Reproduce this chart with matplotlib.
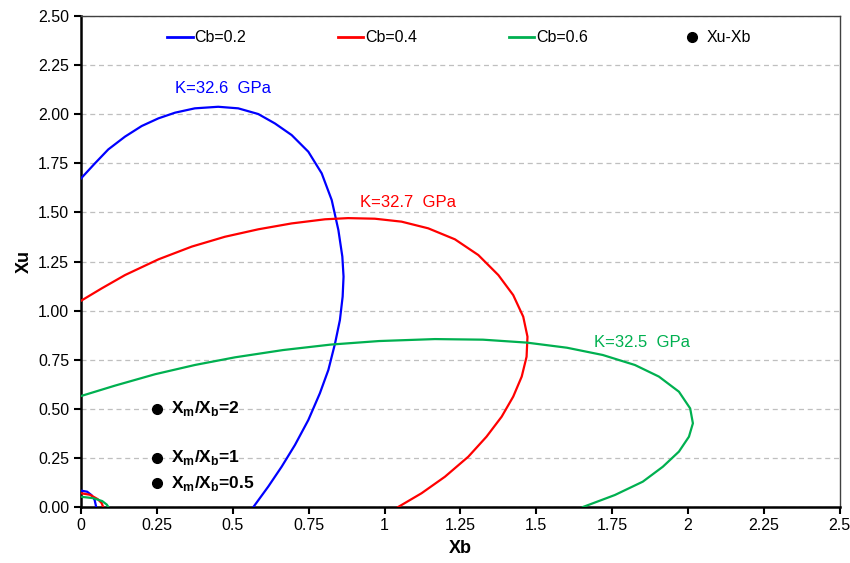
import numpy as np
import matplotlib.pyplot as plt
from matplotlib.lines import Line2D

plt.rcParams['font.family'] = ['Liberation Sans', 'DejaVu Sans']
plt.rcParams['mathtext.fontset'] = 'custom'
plt.rcParams['mathtext.rm'] = 'Liberation Sans'
plt.rcParams['mathtext.bf'] = 'Liberation Sans:bold'

# --- data (Xb, Xu) ---
blue_xb = [0.0, 0.046, 0.090, 0.145, 0.200, 0.255, 0.310, 0.375, 0.452, 0.518, 0.584,
           0.639, 0.694, 0.749, 0.793, 0.826, 0.848, 0.861, 0.865, 0.862, 0.853, 0.837,
           0.815, 0.787, 0.749, 0.705, 0.661, 0.617, 0.568]
blue_xu = [1.673, 1.750, 1.821, 1.886, 1.940, 1.979, 2.008, 2.030, 2.038, 2.030, 2.001,
           1.953, 1.894, 1.809, 1.699, 1.563, 1.410, 1.275, 1.173, 1.071, 0.952, 0.833,
           0.698, 0.579, 0.443, 0.316, 0.205, 0.104, 0.0]

red_xb = [0.0, 0.068, 0.145, 0.255, 0.365, 0.474, 0.584, 0.694, 0.804, 0.880, 0.968,
          1.056, 1.144, 1.232, 1.309, 1.375, 1.424, 1.457, 1.471, 1.468, 1.452, 1.424,
          1.386, 1.336, 1.276, 1.199, 1.122, 1.045]
red_xu = [1.050, 1.113, 1.181, 1.261, 1.326, 1.376, 1.414, 1.444, 1.465, 1.471, 1.468,
          1.453, 1.419, 1.363, 1.283, 1.181, 1.079, 0.969, 0.867, 0.765, 0.664, 0.562,
          0.460, 0.358, 0.256, 0.154, 0.070, 0.0]

green_xb = [0.0, 0.112, 0.244, 0.375, 0.507, 0.665, 0.823, 0.982, 1.166, 1.324, 1.469,
            1.601, 1.719, 1.825, 1.904, 1.970, 2.007, 2.016, 2.003, 1.970, 1.917, 1.851,
            1.759, 1.654]
green_xu = [0.565, 0.618, 0.676, 0.723, 0.762, 0.799, 0.827, 0.845, 0.855, 0.852, 0.837,
            0.811, 0.774, 0.723, 0.664, 0.587, 0.502, 0.426, 0.358, 0.282, 0.205, 0.129,
            0.061, 0.0]

# small loops near the origin
blue_s_xb = [0.0, 0.02, 0.035, 0.045, 0.05]
blue_s_xu = [0.083, 0.078, 0.06, 0.035, 0.0]
red_s_xb = [0.0, 0.03, 0.055, 0.068, 0.073]
red_s_xu = [0.07, 0.062, 0.04, 0.02, 0.0]
green_s_xb = [0.0, 0.04, 0.07, 0.085, 0.09]
green_s_xu = [0.052, 0.045, 0.03, 0.012, 0.0]

# Xu-Xb points
pt_xb = [0.25, 0.25, 0.25]
pt_xu = [0.5, 0.25, 0.12]
pt_labels = ['2', '1', '0.5']

blue, red, green = '#0000FF', '#FF0000', '#00B050'

fig = plt.figure(figsize=(8.5, 5.63), dpi=100)
ax = fig.add_axes([0.0953, 0.0995, 0.8927, 0.872])

lw = 1.6
for xs, ys, c in [(blue_xb, blue_xu, blue), (red_xb, red_xu, red), (green_xb, green_xu, green),
                  (blue_s_xb, blue_s_xu, blue), (red_s_xb, red_s_xu, red),
                  (green_s_xb, green_s_xu, green)]:
    ax.plot(xs, ys, color=c, lw=lw, zorder=3, solid_joinstyle='round')

ax.plot(pt_xb, pt_xu, 'o', color='black', ms=7, zorder=4)
for x, y, lab in zip(pt_xb, pt_xu, pt_labels):
    ax.text(x + 0.045, y, r'X$_{\mathbf{m}}$/X$_{\mathbf{b}}$=' + lab,
            fontsize=12.5, fontweight='bold', va='center', ha='left', zorder=5)

ax.text(0.31, 2.13, 'K=32.6  GPa', color=blue, fontsize=12, va='center')
ax.text(0.92, 1.55, 'K=32.7  GPa', color=red, fontsize=12, va='center')
ax.text(1.69, 0.84, 'K=32.5  GPa', color=green, fontsize=12, va='center')

ax.set_xlim(0, 2.5)
ax.set_ylim(0, 2.5)
ax.set_xticks(np.arange(0, 2.51, 0.25))
ax.set_xticklabels(['0', '0.25', '0.5', '0.75', '1', '1.25', '1.5', '1.75', '2', '2.25', '2.5'])
ax.set_yticks(np.arange(0, 2.51, 0.25))
ax.set_yticklabels([f'{v:.2f}' for v in np.arange(0, 2.51, 0.25)])
ax.tick_params(labelsize=11.5, direction='out', length=5, width=1.5, color='black')
ax.tick_params(axis='x', pad=3)

ax.yaxis.grid(True, linestyle=(0, (4, 3)), color='#BFBFBF', lw=0.9)
ax.set_axisbelow(True)

for side in ['left', 'bottom']:
    ax.spines[side].set_linewidth(1.8)
    ax.spines[side].set_color('black')
for side in ['top', 'right']:
    ax.spines[side].set_linewidth(1.0)
    ax.spines[side].set_color('#404040')

ax.set_xlabel('Xb', fontsize=13, fontweight='bold', labelpad=5)
ax.set_ylabel('Xu', fontsize=13, fontweight='bold', labelpad=4)

handles = [
    Line2D([], [], color=blue, lw=2),
    Line2D([], [], color=red, lw=2),
    Line2D([], [], color=green, lw=2),
    Line2D([], [], marker='o', color='black', ls='none', ms=7),
]
ax.legend(handles, ['Cb=0.2', 'Cb=0.4', 'Cb=0.6', 'Xu-Xb'], ncol=4, frameon=False,
          loc='upper left', bbox_to_anchor=(0.0945, 1.0), fontsize=11.5,
          handlelength=1.6, handletextpad=0.1, columnspacing=5.75)

fig.savefig('out.png', dpi=100)
